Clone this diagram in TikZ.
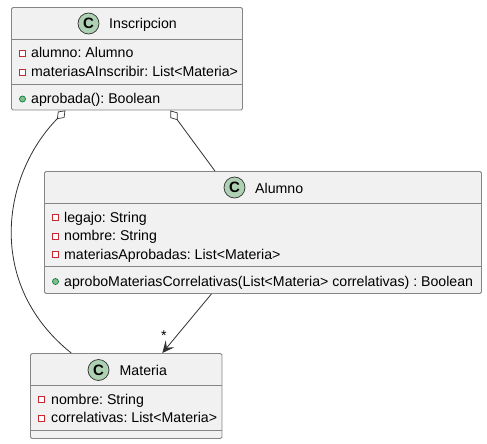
\documentclass[tikz,border=0pt]{standalone}
\usepackage{fontspec}
\setmainfont{Liberation Sans}
\usetikzlibrary{arrows.meta}
\definecolor{boxfill}{HTML}{F1F1F1}
\definecolor{boxline}{HTML}{858585}
\definecolor{spotfill}{HTML}{ADD1B2}
\definecolor{privred}{HTML}{C82930}
\definecolor{pubfill}{HTML}{84BE84}
\definecolor{publine}{HTML}{038048}
\definecolor{linkcol}{HTML}{303030}
\tikzset{
	classbox/.style={draw=boxline, fill=boxfill, line width=0.9pt, rounded corners=1.5pt, inner sep=0pt},
	sepline/.style={draw=boxline, line width=0.9pt},
	spot/.style={circle, draw=linkcol, fill=spotfill, line width=0.7pt, minimum size=21pt, inner sep=0pt, font=\fontsize{15}{15}\selectfont\bfseries},
	title/.style={anchor=base west, inner sep=0pt, font=\fontsize{14.15}{15}\selectfont},
	member/.style={anchor=base west, inner sep=0pt, font=\fontsize{14.15}{15}\selectfont\frenchspacing},
	priv/.style={rectangle, draw=privred, fill=white, line width=0.8pt, minimum size=6pt, inner sep=0pt},
	pub/.style={circle, draw=publine, fill=pubfill, line width=0.7pt, minimum size=6pt, inner sep=0pt},
	link/.style={draw=linkcol, line width=0.8pt},
	agg/.tip={Diamond[open, length=12pt, width=9pt, fill=white, line width=0.7pt]}
}
\begin{document}
\begin{tikzpicture}[x=1pt,y=-1pt]
	\useasboundingbox (0,0) rectangle (487,444);
	\node[classbox, minimum width=231pt, minimum height=102.5pt] (inscripcion) at (127,58.75) {};
	\node[classbox, minimum width=437pt, minimum height=122pt] (alumno) at (263,232.5) {};
	\node[classbox, minimum width=191.5pt, minimum height=85pt] (materia) at (126.25,396) {};

	\draw[sepline] (11.5,39.5) -- (242.5,39.5);
	\draw[sepline] (11.5,84.5) -- (242.5,84.5);
	\draw[sepline] (44.5,203.5) -- (481.5,203.5);
	\draw[sepline] (44.5,266.5) -- (481.5,266.5);
	\draw[sepline] (30.5,385.5) -- (222,385.5);
	\draw[sepline] (30.5,430) -- (222,430);

	\node[spot] (spotI) at (88.5,23.5) {C};
	\node[title] (titleI) at (109,29) {Inscripcion};
	\node[priv] (iconIa) at (22.5,53.5) {};
	\node[member] (memIa) at (31,58) {alumno: Alumno};
	\node[priv] (iconIb) at (22.5,72) {};
	\node[member] (memIb) at (31,76.5) {materiasAInscribir: List<Materia>};
	\node[pub] (iconIc) at (22.5,99) {};
	\node[member] (memIc) at (31,103) {aprobada(): Boolean};

	\node[spot] (spotA) at (234.5,187.5) {C};
	\node[title] (titleA) at (255,193) {Alumno};
	\node[priv] (iconAa) at (55.5,217.5) {};
	\node[member] (memAa) at (64,222) {legajo: String};
	\node[priv] (iconAb) at (55.5,236) {};
	\node[member] (memAb) at (64,240.5) {nombre: String};
	\node[priv] (iconAc) at (55.5,254.5) {};
	\node[member] (memAc) at (64,259) {materiasAprobadas: List<Materia>};
	\node[pub] (iconAd) at (55.5,281.5) {};
	\node[member] (memAd) at (64,286) {aproboMateriasCorrelativas(List<Materia> correlativas) : Boolean};

	\node[spot] (spotM) at (98.5,370) {C};
	\node[title] (titleM) at (119.5,375.5) {Materia};
	\node[priv] (iconMa) at (41.5,399.5) {};
	\node[member] (memMa) at (51,404) {nombre: String};
	\node[priv] (iconMb) at (41.5,418) {};
	\node[member] (memMb) at (51,422.5) {correlativas: List<Materia>};

	\draw[link, agg-] (inscripcion.-140) .. controls (2,175) and (-15,284) .. (materia.142);
	\draw[link, agg-] (inscripcion.-50.6) -- (alumno.128);
	\draw[link, -{Stealth[length=12pt, width=11pt, inset=5pt]}] (alumno.-130) -- (materia.50);
	\node[inner sep=0pt, font=\fontsize{14.15}{15}\selectfont] (mult) at (164,336) {*};
\end{tikzpicture}
\end{document}
